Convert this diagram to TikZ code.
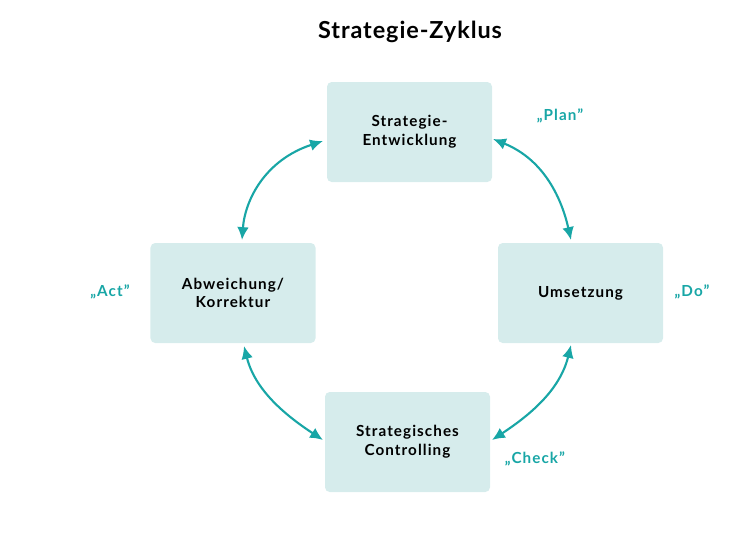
\documentclass[tikz,border=0pt]{standalone}
\usepackage{fontspec}
\setmainfont{Lato}
\usetikzlibrary{positioning,arrows.meta}
\definecolor{teal1}{RGB}{24,166,166}
\definecolor{boxfill}{RGB}{214,236,236}
\begin{document}
\begin{tikzpicture}[x=0.03cm,y=-0.03cm,
  box/.style={fill=boxfill,rounded corners=4pt,minimum width=4.95cm,minimum height=3cm,
    align=center,font=\fontsize{13}{16}\selectfont\bfseries\addfontfeatures{LetterSpace=7}},
  lbl/.style={text=teal1,font=\fontsize{13}{15}\selectfont\bfseries\addfontfeatures{LetterSpace=7}},
  cyc/.style={line width=1.8pt,teal1,{Latex[length=11pt,width=10pt]}-{Latex[length=11pt,width=10pt]}}]
\useasboundingbox (0,0) rectangle (756,554);
% titel
\node[font=\fontsize{20}{24}\selectfont\bfseries\addfontfeatures{LetterSpace=4}] (titel) at (410,32) {Strategie-Zyklus};
% boxen
\node[box] (plan) at (409.5,132) {Strategie-\\Entwicklung};
\node[box] (act) at (233,293) {Abweichung/\\Korrektur};
\node[box] (do) at (580.5,293) {Umsetzung};
\node[box] (check) at (407.5,442) {Strategisches\\Controlling};
% beschriftung
\node[lbl] (lplan) at (560,116) {„Plan"};
\node[lbl] (ldo) at (692,292) {„Do"};
\node[lbl] (lact) at (110,292) {„Act"};
\node[lbl] (lcheck) at (535,459) {„Check"};
% pfeile
\coordinate (a1) at (323,141); \coordinate (a2) at (242,240);
\coordinate (b1) at (493,139); \coordinate (b2) at (571,240);
\coordinate (c1) at (571,345); \coordinate (c2) at (492,440);
\coordinate (d1) at (244,346); \coordinate (d2) at (323,440);
\draw[cyc] (a1) .. controls (265,160) and (245,200) .. (a2);
\draw[cyc] (b1) .. controls (545,160) and (562,200) .. (b2);
\draw[cyc] (c1) .. controls (560,390) and (530,415) .. (c2);
\draw[cyc] (d1) .. controls (255,390) and (285,415) .. (d2);
\end{tikzpicture}
\end{document}
